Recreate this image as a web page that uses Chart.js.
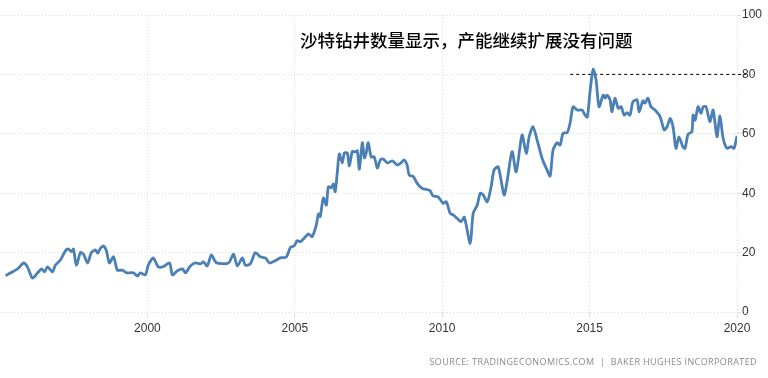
<!DOCTYPE html>
<html lang="zh">
<head>
    <meta charset="UTF-8">
    <title>沙特钻井数量</title>
    <script src="https://cdn.jsdelivr.net/npm/chart.js"></script>
    <style>
        html, body { margin: 0; padding: 0; background: #fff; }
        .wrap { position: relative; width: 768px; height: 378px; }
        .title {
            position: absolute; left: 300px; top: 30px;
            font-family: "Noto Sans CJK SC", sans-serif; font-size: 17.5px; line-height: 20px;
            font-weight: 500; color: #000; white-space: nowrap;
        }
        .source {
            position: absolute; right: 11px; top: 356px;
            font-family: "Open Sans", sans-serif; font-size: 9px; line-height: 12px;
            letter-spacing: 0.4px; color: #8a8a8a; white-space: nowrap;
        }
    </style>
</head>
<body>
<div class="wrap">
    <canvas id="rigChart" width="768" height="378"></canvas>
    <div class="title">沙特钻井数量显示，产能继续扩展没有问题</div>
    <div class="source">SOURCE: TRADINGECONOMICS.COM &nbsp;|&nbsp; BAKER HUGHES INCORPORATED</div>
</div>

<script>
// Saudi Arabia rig count
const years = [
    1995.19, 1995.36, 1995.53, 1995.63, 1995.80, 1995.93, 1996.10, 1996.27, 1996.41, 1996.51,
    1996.61, 1996.78, 1996.88, 1997.05, 1997.22, 1997.32, 1997.42, 1997.49, 1997.59, 1997.73,
    1997.83, 1997.97, 1998.10, 1998.24, 1998.31, 1998.41, 1998.51, 1998.61, 1998.71, 1998.85,
    1998.98, 1999.15, 1999.29, 1999.53, 1999.66, 1999.76, 1999.93, 2000.03, 2000.20, 2000.37,
    2000.54, 2000.75, 2000.85, 2001.02, 2001.19, 2001.29, 2001.46, 2001.63, 2001.80, 2001.90,
    2002.03, 2002.17, 2002.34, 2002.75, 2002.92, 2003.05, 2003.22, 2003.32, 2003.49, 2003.66,
    2003.83, 2004.00, 2004.14, 2004.34, 2004.51, 2004.71, 2004.85, 2004.98, 2005.08, 2005.19,
    2005.36, 2005.46, 2005.59, 2005.73, 2005.80, 2005.86, 2005.97, 2006.07, 2006.14, 2006.24,
    2006.31, 2006.37, 2006.44, 2006.51, 2006.61, 2006.68, 2006.78, 2006.85, 2006.95, 2007.05,
    2007.12, 2007.19, 2007.29, 2007.36, 2007.42, 2007.49, 2007.59, 2007.69, 2007.80, 2007.90,
    2008.00, 2008.14, 2008.31, 2008.47, 2008.61, 2008.71, 2008.81, 2008.88, 2009.02, 2009.15,
    2009.32, 2009.46, 2009.59, 2009.69, 2009.86, 2010.03, 2010.14, 2010.27, 2010.37, 2010.51,
    2010.64, 2010.75, 2010.95, 2011.05, 2011.19, 2011.29, 2011.39, 2011.53, 2011.66, 2011.76,
    2011.90, 2012.10, 2012.20, 2012.37, 2012.51, 2012.71, 2012.85, 2012.95, 2013.08, 2013.22,
    2013.39, 2013.53, 2013.66, 2013.76, 2013.90, 2014.00, 2014.10, 2014.24, 2014.34, 2014.44,
    2014.58, 2014.75, 2014.81, 2014.92, 2015.02, 2015.12, 2015.22, 2015.32, 2015.46, 2015.53,
    2015.59, 2015.69, 2015.76, 2015.86, 2015.97, 2016.07, 2016.17, 2016.27, 2016.37, 2016.47,
    2016.61, 2016.68, 2016.81, 2016.88, 2016.98, 2017.08, 2017.22, 2017.39, 2017.53, 2017.63,
    2017.73, 2017.83, 2017.93, 2018.03, 2018.17, 2018.24, 2018.34, 2018.47, 2018.51, 2018.58,
    2018.68, 2018.78, 2018.85, 2018.95, 2019.08, 2019.19, 2019.32, 2019.42, 2019.53, 2019.66,
    2019.80, 2019.90, 2020.00
];
const rigCount = [
    12.2, 13.2, 14.1, 14.8, 16.5, 15.2, 11.4, 13.1, 14.5, 13.5,
    15.2, 13.5, 15.8, 17.5, 20.6, 21.2, 20.3, 21.2, 15.8, 20.0,
    19.5, 16.5, 20.0, 20.9, 19.8, 21.5, 22.2, 20.6, 16.5, 18.6,
    14.1, 14.1, 13.2, 13.2, 12.1, 13.2, 12.5, 15.8, 18.2, 15.2,
    15.3, 16.5, 12.5, 13.9, 14.5, 13.2, 15.5, 16.5, 16.2, 16.9,
    15.5, 19.2, 16.6, 16.5, 19.5, 15.5, 18.2, 15.8, 16.2, 20.0,
    18.6, 18.2, 16.5, 17.3, 18.2, 18.5, 21.7, 22.3, 24.0, 23.7,
    25.3, 26.3, 25.4, 29.3, 33.0, 32.1, 38.4, 36.0, 42.2, 41.8,
    43.1, 40.5, 46.8, 53.2, 50.2, 53.5, 53.5, 49.2, 54.0, 53.9,
    54.3, 48.1, 57.0, 51.9, 53.5, 57.0, 52.2, 52.3, 48.5, 51.2,
    51.5, 50.2, 50.9, 49.5, 50.3, 51.2, 49.5, 46.1, 45.6, 43.3,
    41.6, 41.3, 40.8, 39.1, 38.8, 36.6, 37.1, 33.2, 32.7, 31.5,
    30.4, 31.9, 23.1, 33.2, 36.0, 40.0, 39.4, 37.1, 42.2, 47.8,
    48.9, 39.4, 43.9, 54.0, 47.2, 59.6, 53.4, 59.0, 62.4, 57.9,
    51.7, 48.4, 45.8, 54.5, 57.0, 56.2, 60.2, 60.4, 63.7, 69.1,
    68.0, 68.0, 66.9, 65.6, 74.7, 81.7, 78.1, 69.1, 73.0, 72.0,
    73.0, 71.6, 67.4, 72.0, 68.6, 69.1, 66.3, 67.1, 66.3, 70.8,
    71.4, 67.4, 71.1, 70.3, 72.0, 69.1, 68.0, 65.8, 61.3, 62.4,
    65.2, 62.4, 55.1, 59.0, 55.5, 55.1, 59.9, 60.7, 66.3, 64.6,
    69.1, 66.9, 69.1, 69.1, 64.1, 68.0, 59.0, 66.0, 58.5, 55.1,
    55.7, 55.1, 59.3
];
// dashed reference line at the 2015 peak level
const refYears = [2014.34, 2020.3];
const refLevel = [80, 80];

const xTicks = [2000, 2005, 2010, 2015, 2020];
const yTicks = [0, 20, 40, 60, 80, 100];

const tickFont = { family: "'Liberation Sans', Arial, sans-serif", size: 12 };

new Chart(document.getElementById("rigChart"), {
    type: "line",
    data: {
        datasets: [
            {
                data: years.map((y, i) => ({ x: y, y: rigCount[i] })),
                borderColor: "#4a80b6",
                borderWidth: 2.8,
                pointRadius: 0,
                tension: 0.25,
                fill: false
            },
            {
                data: refYears.map((y, i) => ({ x: y, y: refLevel[i] })),
                borderColor: "#000",
                borderWidth: 1,
                borderDash: [3, 3],
                pointRadius: 0,
                clip: false
            }
        ]
    },
    options: {
        responsive: false,
        animation: false,
        layout: { padding: { top: 15, bottom: 40, left: 0, right: 0 } },
        plugins: { legend: { display: false }, tooltip: { enabled: false } },
        scales: {
            x: {
                type: "linear",
                min: 1995,
                max: 2020,
                afterBuildTicks: scale => {
                    scale.ticks = xTicks.map(v => ({ value: v }));
                },
                afterFit: scale => { scale.height = 26; },
                ticks: {
                    color: "#333",
                    font: tickFont,
                    padding: 3,
                    maxRotation: 0,
                    callback: v => String(v)
                },
                grid: { color: "#dedede", tickLength: 6 },
                border: { display: false, dash: [1, 2] }
            },
            y: {
                position: "right",
                min: 0,
                max: 100,
                afterBuildTicks: scale => {
                    scale.ticks = yTicks.map(v => ({ value: v }));
                },
                afterFit: scale => { scale.width = 31; },
                ticks: {
                    color: "#333",
                    font: tickFont,
                    padding: 1,
                    callback: v => String(v)
                },
                grid: { color: "#dedede", tickLength: 4 },
                border: { display: false, dash: [1, 2] }
            }
        }
    }
});
</script>
</body>
</html>
